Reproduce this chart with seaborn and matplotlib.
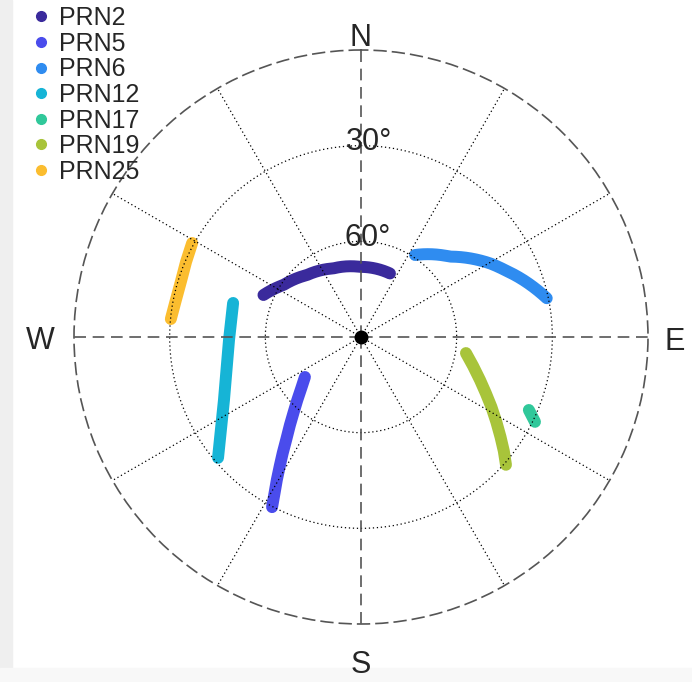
import numpy as np
import pandas as pd
import matplotlib.pyplot as plt
import seaborn as sns
from matplotlib.colors import to_hex
from matplotlib.lines import Line2D
from matplotlib.patches import Rectangle

# satellite tracks: azimuth (deg, clockwise from N) and elevation (deg)
prn2_az = [293.3, 303.8, 318.8, 338.0, 359.2, 24.5]
prn2_el = [56.7, 60.7, 64.2, 66.8, 68.0, 68.1]
prn5_az = [234.5, 229.5, 225.3, 221.9, 218.9, 216.2, 214.0, 212.2, 210.5, 209.0, 207.6]
prn5_el = [68.4, 65.4, 61.9, 58.4, 54.5, 50.4, 46.1, 42.2, 38.0, 34.1, 29.8]
prn6_az = [33.4, 47.9, 60.3, 65.1, 70.6, 78.2]
prn6_el = [59.2, 52.4, 43.4, 40.2, 36.1, 30.5]
prn12_az = [284.9, 268.7, 245.3, 229.8]
prn12_el = [48.5, 48.6, 42.7, 31.3]
prn17_az = [113.5, 116.0]
prn17_el = [32.6, 29.3]
prn19_az = [98.7, 104.5, 109.9, 114.2, 118.2, 122.1, 125.6, 128.6, 131.4]
prn19_el = [56.7, 53.7, 50.3, 47.1, 43.6, 39.9, 36.2, 32.7, 29.4]
prn25_az = [299.1, 293.2, 287.3, 281.3, 275.4]
prn25_el = [29.4, 30.3, 30.9, 30.8, 30.1]

prns = ["PRN2", "PRN5", "PRN6", "PRN12", "PRN17", "PRN19", "PRN25"]
colors = ["#3a2a9c", "#4a4cec", "#2f8cf0", "#16b4d6", "#30c89a", "#a8c43a", "#fbbd2f"]
tracks = [(prn2_az, prn2_el), (prn5_az, prn5_el), (prn6_az, prn6_el), (prn12_az, prn12_el),
          (prn17_az, prn17_el), (prn19_az, prn19_el), (prn25_az, prn25_el)]
curved = ["PRN2", "PRN6"]  # these two run along arcs in the picture

rows = []
for name, (az, el) in zip(prns, tracks):
    # unwrap so a track crossing north doesn't go the long way round
    theta = np.unwrap(np.deg2rad(az))
    for t, e in zip(theta, el):
        rows.append({"prn": name, "theta": t, "zen": 90 - e})
df = pd.DataFrame(rows)

sns.set_style("white")
plt.rcParams['font.family'] = ['Liberation Sans', 'DejaVu Sans']

fig = plt.figure(figsize=(6.92, 6.82), dpi=100)
# light grey edges of the screenshot
fig.patches.append(Rectangle((0, 0), 12 / 692, 1, transform=fig.transFigure, color="#efefef", zorder=-2))
fig.patches.append(Rectangle((0, 0), 1, 14 / 682, transform=fig.transFigure, color="#f8f8f8", zorder=-2))

ax = fig.add_axes([74 / 692, 58 / 682, 574 / 692, 574 / 682], projection='polar')
ax.set_theta_zero_location('N')
ax.set_theta_direction(-1)
ax.patch.set_alpha(0)

pal = dict(zip(prns, colors))
sns.lineplot(data=df, x="theta", y="zen", hue="prn", palette=pal,
             sort=False, estimator=None, linewidth=8.6, solid_capstyle='round',
             legend=False, ax=ax, zorder=2)
# draw the arc-like tracks as curves in polar space instead of straight chords
curved_colors = [pal[p] for p in curved]
for ln in ax.lines:
    if to_hex(ln.get_color()) in curved_colors:
        ln.get_path()._interpolation_steps = 40

ax.set_ylim(0, 90)
ax.set_xlabel("")
ax.set_ylabel("")

# dotted grid, cardinal directions get dashed lines instead
ax.set_xticks(np.deg2rad([30, 60, 120, 150, 210, 240, 300, 330]))
ax.set_yticks([30, 60])
ax.set_xticklabels([])
ax.set_yticklabels([])
ax.set_axisbelow(False)
ax.grid(True, color='black', linestyle=(0, (1, 2.2)), linewidth=0.9)
ax.spines['polar'].set_linestyle((0, (7, 4)))
ax.spines['polar'].set_color('#555555')
ax.spines['polar'].set_linewidth(1.2)

for a in [0, 90, 180, 270]:
    ax.plot([np.deg2rad(a)] * 2, [0, 90], color='#555555', lw=1.2, ls=(0, (7, 4)), zorder=3)

ax.plot(0, 0, 'o', color='black', ms=9, zorder=4)

# elevation labels
ax.annotate("30°", xy=(0, 60), xytext=(5.8, -2.9), textcoords='offset points',
            ha='center', va='baseline', fontsize=22)
ax.annotate("60°", xy=(0, 30), xytext=(5.0, -3.4), textcoords='offset points',
            ha='center', va='baseline', fontsize=22)

# compass labels
ax.annotate("N", xy=(0, 90), xytext=(0, 2.9), textcoords='offset points',
            ha='center', va='baseline', fontsize=22)
ax.annotate("E", xy=(np.pi / 2, 90), xytext=(19.4, -9), textcoords='offset points',
            ha='center', va='baseline', fontsize=22)
ax.annotate("S", xy=(np.pi, 90), xytext=(0, -35.6), textcoords='offset points',
            ha='center', va='baseline', fontsize=22)
ax.annotate("W", xy=(3 * np.pi / 2, 90), xytext=(-24.5, -8.6), textcoords='offset points',
            ha='center', va='baseline', fontsize=22)

handles = [Line2D([], [], marker='o', ls='none', color=c, markersize=7) for c in colors]
fig.legend(handles, prns, loc='upper left', bbox_to_anchor=(28.5 / 692, 1 - 6 / 682),
           frameon=False, fontsize=18, handlelength=1.0, handletextpad=0.22,
           labelspacing=0.065, borderpad=0, borderaxespad=0)

plt.savefig("out.png", dpi=100)
